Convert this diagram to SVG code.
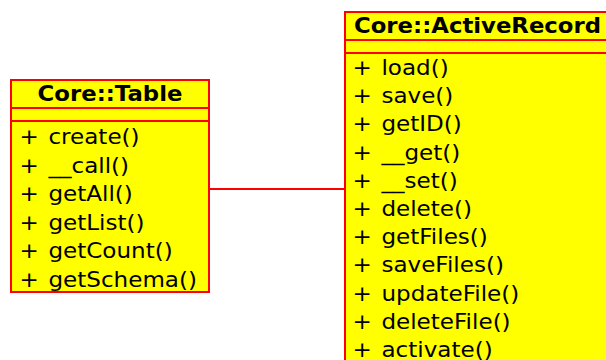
<svg xmlns="http://www.w3.org/2000/svg" width="606" height="360" viewBox="0 0 606 360">
<style>
.box{fill:#ffff00;stroke:#ff0000;stroke-width:2}
.sep{stroke:#ff0000;stroke-width:2}
.t{font-family:"DejaVu Sans",sans-serif;font-size:20.6px;fill:#000;word-spacing:2px}
.b{font-weight:bold;font-size:21.5px;word-spacing:0}
.conn{stroke:#ff0000;stroke-width:2;fill:none}
</style>
<rect width="606" height="360" fill="#ffffff"/>
<g id="connectors">
<line class="conn" x1="209" y1="189" x2="345" y2="189"/>
</g>
<g id="core-table">
<rect class="box" x="11" y="80" width="198" height="212"/>
<line class="sep" x1="11" y1="108" x2="209" y2="108"/>
<line class="sep" x1="11" y1="121" x2="209" y2="121"/>
<text class="t b" text-anchor="middle" transform="translate(110,101) scale(1.06,1)">Core::Table</text>
<text class="t" transform="translate(19.5,144) scale(1.12,1)">+ create()</text>
<text class="t" transform="translate(19.5,172.5) scale(1.12,1)">+ __call()</text>
<text class="t" transform="translate(19.5,201) scale(1.12,1)">+ getAll()</text>
<text class="t" transform="translate(19.5,229.5) scale(1.12,1)">+ getList()</text>
<text class="t" transform="translate(19.5,258) scale(1.12,1)">+ getCount()</text>
<text class="t" transform="translate(19.5,286.5) scale(1.12,1)">+ getSchema()</text>
</g>
<g id="core-activerecord">
<rect class="box" x="345" y="12" width="270" height="360"/>
<line class="sep" x1="345" y1="40" x2="615" y2="40"/>
<line class="sep" x1="345" y1="53" x2="615" y2="53"/>
<text class="t b" transform="translate(354,33) scale(1.06,1)">Core::ActiveRecord</text>
<text class="t" transform="translate(352.5,75) scale(1.12,1)">+ load()</text>
<text class="t" transform="translate(352.5,103.2) scale(1.12,1)">+ save()</text>
<text class="t" transform="translate(352.5,131.4) scale(1.12,1)">+ getID()</text>
<text class="t" transform="translate(352.5,159.6) scale(1.12,1)">+ __get()</text>
<text class="t" transform="translate(352.5,187.8) scale(1.12,1)">+ __set()</text>
<text class="t" transform="translate(352.5,216) scale(1.12,1)">+ delete()</text>
<text class="t" transform="translate(352.5,244.2) scale(1.12,1)">+ getFiles()</text>
<text class="t" transform="translate(352.5,272.4) scale(1.12,1)">+ saveFiles()</text>
<text class="t" transform="translate(352.5,300.6) scale(1.12,1)">+ updateFile()</text>
<text class="t" transform="translate(352.5,328.8) scale(1.12,1)">+ deleteFile()</text>
<text class="t" transform="translate(352.5,357) scale(1.12,1)">+ activate()</text>
</g>
</svg>
